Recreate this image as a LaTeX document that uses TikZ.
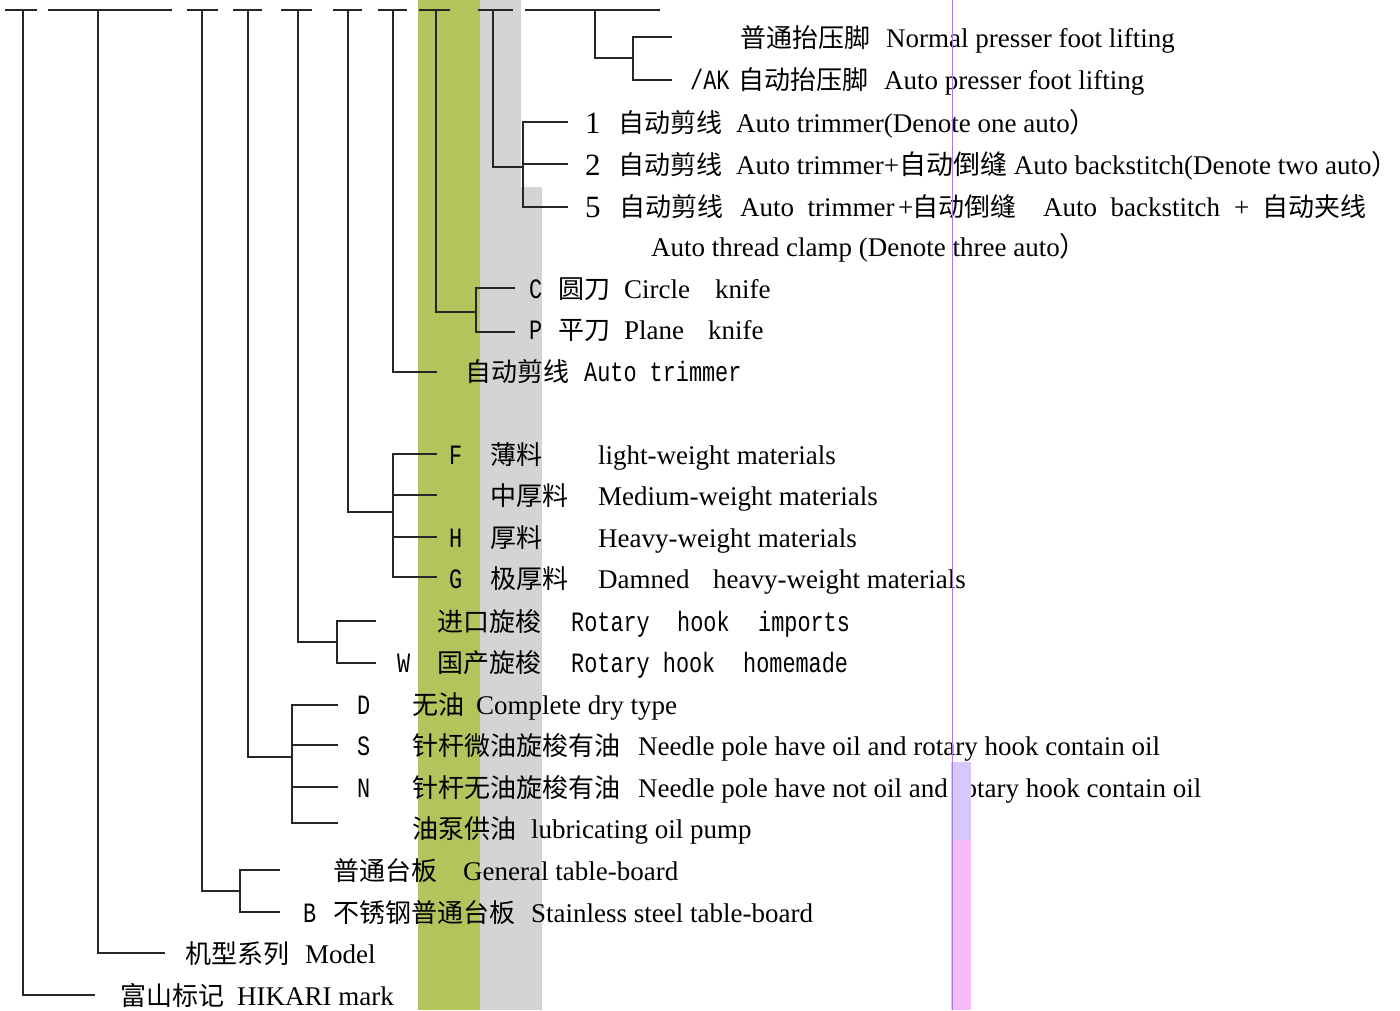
\documentclass[tikz,border=0pt]{standalone}
\usepackage{fontspec}
\setmainfont{Liberation Serif}
\newfontfamily\zhfont{Noto Sans CJK SC}
\newfontfamily\ttcond[FakeStretch=0.78]{Liberation Mono}
\usetikzlibrary{positioning, calc}
\definecolor{bandgreen}{RGB}{180, 196, 92}
\definecolor{bandgrey}{RGB}{212, 212, 212}
\definecolor{scanline}{RGB}{170, 125, 228}
\definecolor{scanpink}{RGB}{246, 186, 246}
\definecolor{scanlav}{RGB}{214, 200, 250}

\begin{document}
\begin{tikzpicture}[x=1pt, y=-1pt,
    br/.style={line width=2.4pt, black!85},
    zh/.style={anchor=base west, inner sep=0pt, yshift=-10pt, font=\zhfont\fontsize{26}{30}\selectfont},
    en/.style={anchor=base west, inner sep=0pt, yshift=-10pt, font=\fontsize{27}{30}\selectfont},
    num/.style={anchor=base west, inner sep=0pt, yshift=-11pt, font=\fontsize{31}{34}\selectfont},
    tt/.style={anchor=base west, inner sep=0pt, yshift=-10pt, font=\ttcond\fontsize{28}{30}\selectfont}]

    \useasboundingbox (0,0) rectangle (1400,1010);

    % coloured bands behind the codes
    \fill[bandgreen] (418,0) rectangle (480,1010);
    \fill[bandgrey] (480,0) rectangle (521,187);
    \fill[bandgrey] (480,187) rectangle (542,1010);

    % code positions along the top
    \foreach \n/\x/\a/\b in {1/23/5/37, 2/98/48/172, 3/202/187/218, 4/248/233/262,
        5/298/281/312, 6/348/333/362, 7/393/378/407, 8/436/419/450, 9/493/478/513, 10/595/525/660} {
      \coordinate (c\n) at (\x,10);
      \coordinate (l\n) at (\a,10);
      \coordinate (r\n) at (\b,10);
      \draw[br] (l\n) -- (r\n);
    }

    % junctions and branch ends
    \coordinate (e1) at (95,995);
    \coordinate (e2) at (165,953);
    \coordinate (j3) at (240,891);
    \coordinate (e31) at (280,870);
    \coordinate (e32) at (280,912);
    \coordinate (j4) at (292,757);
    \coordinate (e41) at (338,705);
    \coordinate (e42) at (338,745);
    \coordinate (e43) at (338,787);
    \coordinate (e44) at (338,823);
    \coordinate (j5) at (337,642);
    \coordinate (e51) at (376,621);
    \coordinate (e52) at (376,663);
    \coordinate (j6) at (393,512);
    \coordinate (e61) at (437,454);
    \coordinate (e62) at (437,495);
    \coordinate (e63) at (437,537);
    \coordinate (e64) at (437,577);
    \coordinate (e7) at (437,372);
    \coordinate (j8) at (476,312);
    \coordinate (e81) at (515,288);
    \coordinate (e82) at (515,332);
    \coordinate (j9) at (523,167);
    \coordinate (e91) at (568,122);
    \coordinate (e92) at (568,164);
    \coordinate (e93) at (568,207);
    \coordinate (j10) at (633,58);
    \coordinate (e101) at (672,37);
    \coordinate (e102) at (672,80);

    \draw[br] (c1) |- (e1);
    \draw[br] (c2) |- (e2);
    \draw[br] (c3) |- (j3);
    \draw[br] (j3) |- (e31);
    \draw[br] (j3) |- (e32);
    \draw[br] (c4) |- (j4);
    \draw[br] (j4) |- (e41);
    \draw[br] (j4) |- (e42);
    \draw[br] (j4) |- (e43);
    \draw[br] (j4) |- (e44);
    \draw[br] (c5) |- (j5);
    \draw[br] (j5) |- (e51);
    \draw[br] (j5) |- (e52);
    \draw[br] (c6) |- (j6);
    \draw[br] (j6) |- (e61);
    \draw[br] (j6) |- (e62);
    \draw[br] (j6) |- (e63);
    \draw[br] (j6) |- (e64);
    \draw[br] (c7) |- (e7);
    \draw[br] (c8) |- (j8);
    \draw[br] (j8) |- (e81);
    \draw[br] (j8) |- (e82);
    \draw[br] (c9) |- (j9);
    \draw[br] (j9) |- (e91);
    \draw[br] (j9) |- (e92);
    \draw[br] (j9) |- (e93);
    \draw[br] (c10) |- (j10);
    \draw[br] (j10) |- (e101);
    \draw[br] (j10) |- (e102);

    % presser foot
    \node[zh] (pf1z) at (740,37) {普通抬压脚};
    \node[en] (pf1e) at (886,37) {Normal presser foot lifting};
    \node[tt] (pf2c) at (690,79) {/AK};
    \node[zh] (pf2z) at (738,79) {自动抬压脚};
    \node[en] (pf2e) at (884,79) {Auto presser foot lifting};

    % trimmer options
    \node[num] (at1c) at (585,122) {1};
    \node[zh] (at1z) at (618,122) {自动剪线};
    \node[en] (at1e) at (736,122) {Auto trimmer(Denote one auto{\zhfont ）}};
    \node[num] (at2c) at (585,164) {2};
    \node[zh] (at2z) at (618,164) {自动剪线};
    \node[en] (at2e) at (736,164) {Auto trimmer+{\zhfont 自动倒缝} Auto backstitch(Denote two auto{\zhfont ）}};
    \node[num] (at3c) at (585,206) {5};
    \node[zh] (at3z) at (619,206) {自动剪线};
    \node[en] (at3e) at (740,206) {Auto\ \ trimmer};
    \node[en] (at3p) at (898,206) {+};
    \node[zh] (at3z2) at (912,206) {自动倒缝};
    \node[en] (at3e2) at (1043,206) {Auto\ \ backstitch};
    \node[en] (at3q) at (1234,206) {+};
    \node[zh] (at3z3) at (1262,206) {自动夹线};
    \node[en] (at3e3) at (651,246) {Auto thread clamp (Denote three auto{\zhfont ）}};

    % knife
    \node[tt] (kn1c) at (529,288) {C};
    \node[zh] (kn1z) at (558,288) {圆刀};
    \node[en] (kn1e) at (624,288) {Circle};
    \node[en] (kn1f) at (715,288) {knife};
    \node[tt] (kn2c) at (529,329) {P};
    \node[zh] (kn2z) at (558,329) {平刀};
    \node[en] (kn2e) at (624,329) {Plane};
    \node[en] (kn2f) at (708,329) {knife};

    \node[zh] (trz) at (465,371) {自动剪线};
    \node[tt] (tre) at (584,371) {Auto trimmer};

    % materials
    \node[tt] (mt1c) at (449,454) {F};
    \node[zh] (mt1z) at (490,454) {薄料};
    \node[en] (mt1e) at (598,454) {light-weight materials};
    \node[zh] (mt2z) at (490,495) {中厚料};
    \node[en] (mt2e) at (598,495) {Medium-weight materials};
    \node[tt] (mt3c) at (449,537) {H};
    \node[zh] (mt3z) at (490,537) {厚料};
    \node[en] (mt3e) at (598,537) {Heavy-weight materials};
    \node[tt] (mt4c) at (449,578) {G};
    \node[zh] (mt4z) at (490,578) {极厚料};
    \node[en] (mt4e) at (598,578) {Damned};
    \node[en] (mt4f) at (713,578) {heavy-weight materials};

    % rotary hook
    \node[zh] (rh1z) at (437,621) {进口旋梭};
    \node[tt] (rh1e) at (571,621) {Rotary};
    \node[tt] (rh1f) at (677,621) {hook};
    \node[tt] (rh1g) at (758,621) {imports};
    \node[tt] (rh2c) at (397,662) {W};
    \node[zh] (rh2z) at (437,662) {国产旋梭};
    \node[tt] (rh2e) at (571,662) {Rotary hook};
    \node[tt] (rh2f) at (743,662) {homemade};

    % oil
    \node[tt] (ol1c) at (357,704) {D};
    \node[zh] (ol1z) at (412,704) {无油};
    \node[en] (ol1e) at (476,704) {Complete dry type};
    \node[tt] (ol2c) at (357,745) {S};
    \node[zh] (ol2z) at (412,745) {针杆微油旋梭有油};
    \node[en] (ol2e) at (638,745) {Needle pole have oil and rotary hook contain oil};
    \node[tt] (ol3c) at (357,787) {N};
    \node[zh] (ol3z) at (412,787) {针杆无油旋梭有油};
    \node[en] (ol3e) at (638,787) {Needle pole have not oil and rotary hook contain oil};
    \node[zh] (ol4z) at (412,828) {油泵供油};
    \node[en] (ol4e) at (531,828) {lubricating oil pump};

    % table board
    \node[zh] (tb1z) at (333,870) {普通台板};
    \node[en] (tb1e) at (463,870) {General table-board};
    \node[tt] (tb2c) at (303,912) {B};
    \node[zh] (tb2z) at (333,912) {不锈钢普通台板};
    \node[en] (tb2e) at (531,912) {Stainless steel table-board};

    \node[zh] (mdz) at (185,953) {机型系列};
    \node[en] (mde) at (305,953) {Model};
    \node[zh] (hkz) at (120,995) {富山标记};
    \node[en] (hke) at (237,995) {HIKARI mark};

    % scan traces on the right
    \fill[scanlav] (951,762) rectangle (971,840);
    \fill[scanpink] (951,840) rectangle (971,1010);
    \draw[scanline, line width=1pt] (952,0) -- (952,1010);
  \end{tikzpicture}
\end{document}
